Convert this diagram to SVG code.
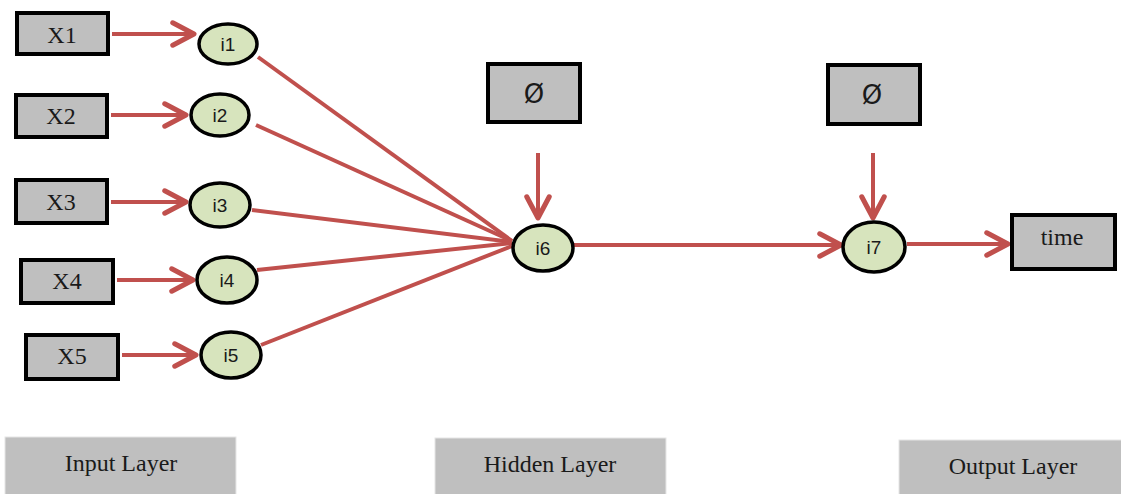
<svg xmlns="http://www.w3.org/2000/svg" width="1121" height="494" viewBox="0 0 1121 494">
<defs>
<style>
.box{fill:#bfbfbf;stroke:#000;stroke-width:4}
.lay{fill:#bfbfbf;stroke:#e6e6e6;stroke-width:1}
.nd{fill:#d7e4bd;stroke:#000;stroke-width:3.5}
.bt{font-family:"Liberation Serif","Times New Roman",serif;font-size:24px;fill:#1a1a1a;text-anchor:middle}
.ph{font-family:"DejaVu Sans",sans-serif;font-size:26px;fill:#1a1a1a;text-anchor:middle}
.lt{font-family:"Liberation Serif","Times New Roman",serif;font-size:24px;fill:#1a1a1a;text-anchor:middle}
.nt{font-family:"Liberation Sans",Arial,sans-serif;font-size:19px;fill:#1a1a1a;text-anchor:middle}
.ln{stroke:#c0504d;stroke-width:4;fill:none}
.ar{stroke:#c0504d;stroke-width:4;fill:none;marker-end:url(#ah)}
</style>
<marker id="ah" markerUnits="userSpaceOnUse" markerWidth="30" markerHeight="30" viewBox="-20 -12 24 24" refX="0" refY="0" orient="auto">
<path d="M-17,-9 L0,0 L-17,9" fill="none" stroke="#c0504d" stroke-width="4" stroke-linejoin="round" stroke-linecap="round"/>
</marker>
</defs>
<rect width="1121" height="494" fill="#fff"/>
<g id="connectors">
<line class="ar" x1="112" y1="34" x2="194" y2="34"/>
<line class="ar" x1="111" y1="115" x2="186" y2="115"/>
<line class="ar" x1="111" y1="202" x2="186" y2="202"/>
<line class="ar" x1="117" y1="280" x2="193" y2="280"/>
<line class="ar" x1="122" y1="355" x2="196" y2="355"/>
<line class="ln" x1="258" y1="57" x2="512" y2="241"/>
<line class="ln" x1="256" y1="125" x2="512" y2="241"/>
<line class="ln" x1="252" y1="210" x2="512" y2="242"/>
<line class="ln" x1="257" y1="270" x2="512" y2="243"/>
<line class="ln" x1="261" y1="345" x2="512" y2="246"/>
<line class="ar" x1="538" y1="153" x2="538" y2="218"/>
<line class="ar" x1="873" y1="153" x2="873" y2="218"/>
<line class="ar" x1="574" y1="245" x2="841" y2="245"/>
<line class="ar" x1="907" y1="244" x2="1008" y2="244"/>
</g>
<g id="X1"><rect class="box" x="17" y="13" width="91" height="41"/><text class="bt" x="62" y="43">X1</text></g>
<g id="X2"><rect class="box" x="16" y="95" width="91" height="42"/><text class="bt" x="61" y="124">X2</text></g>
<g id="X3"><rect class="box" x="16" y="180" width="91" height="43"/><text class="bt" x="61" y="210">X3</text></g>
<g id="X4"><rect class="box" x="21" y="260" width="92" height="43"/><text class="bt" x="67" y="289">X4</text></g>
<g id="X5"><rect class="box" x="26" y="335" width="92" height="44"/><text class="bt" x="72" y="364">X5</text></g>
<g id="i1"><ellipse class="nd" cx="228" cy="44" rx="29" ry="20"/><text class="nt" x="228" y="51">i1</text></g>
<g id="i2"><ellipse class="nd" cx="220" cy="115" rx="29" ry="21"/><text class="nt" x="220" y="122">i2</text></g>
<g id="i3"><ellipse class="nd" cx="220" cy="205" rx="30" ry="22"/><text class="nt" x="220" y="212">i3</text></g>
<g id="i4"><ellipse class="nd" cx="227" cy="280" rx="30" ry="23"/><text class="nt" x="227" y="287">i4</text></g>
<g id="i5"><ellipse class="nd" cx="231" cy="355" rx="30" ry="23"/><text class="nt" x="231" y="362">i5</text></g>
<g id="phi1"><rect class="box" x="488" y="64" width="92" height="58"/><text class="ph" x="534" y="103">Ø</text></g>
<g id="phi2"><rect class="box" x="828" y="65" width="92" height="59"/><text class="ph" x="872" y="104">Ø</text></g>
<g id="i6"><ellipse class="nd" cx="543" cy="248" rx="30" ry="23"/><text class="nt" x="543" y="255">i6</text></g>
<g id="i7"><ellipse class="nd" cx="874" cy="247" rx="31" ry="25"/><text class="nt" x="874" y="254">i7</text></g>
<g id="time"><rect class="box" x="1012" y="215" width="103" height="54"/><text class="bt" x="1062" y="245">time</text></g>
<g id="input-layer"><rect class="lay" x="5" y="437" width="231" height="60"/><text class="lt" x="121" y="471">Input Layer</text></g>
<g id="hidden-layer"><rect class="lay" x="435" y="438" width="231" height="60"/><text class="lt" x="550" y="472">Hidden Layer</text></g>
<g id="output-layer"><rect class="lay" x="899" y="440" width="225" height="60"/><text class="lt" x="1013" y="474">Output Layer</text></g>
</svg>
